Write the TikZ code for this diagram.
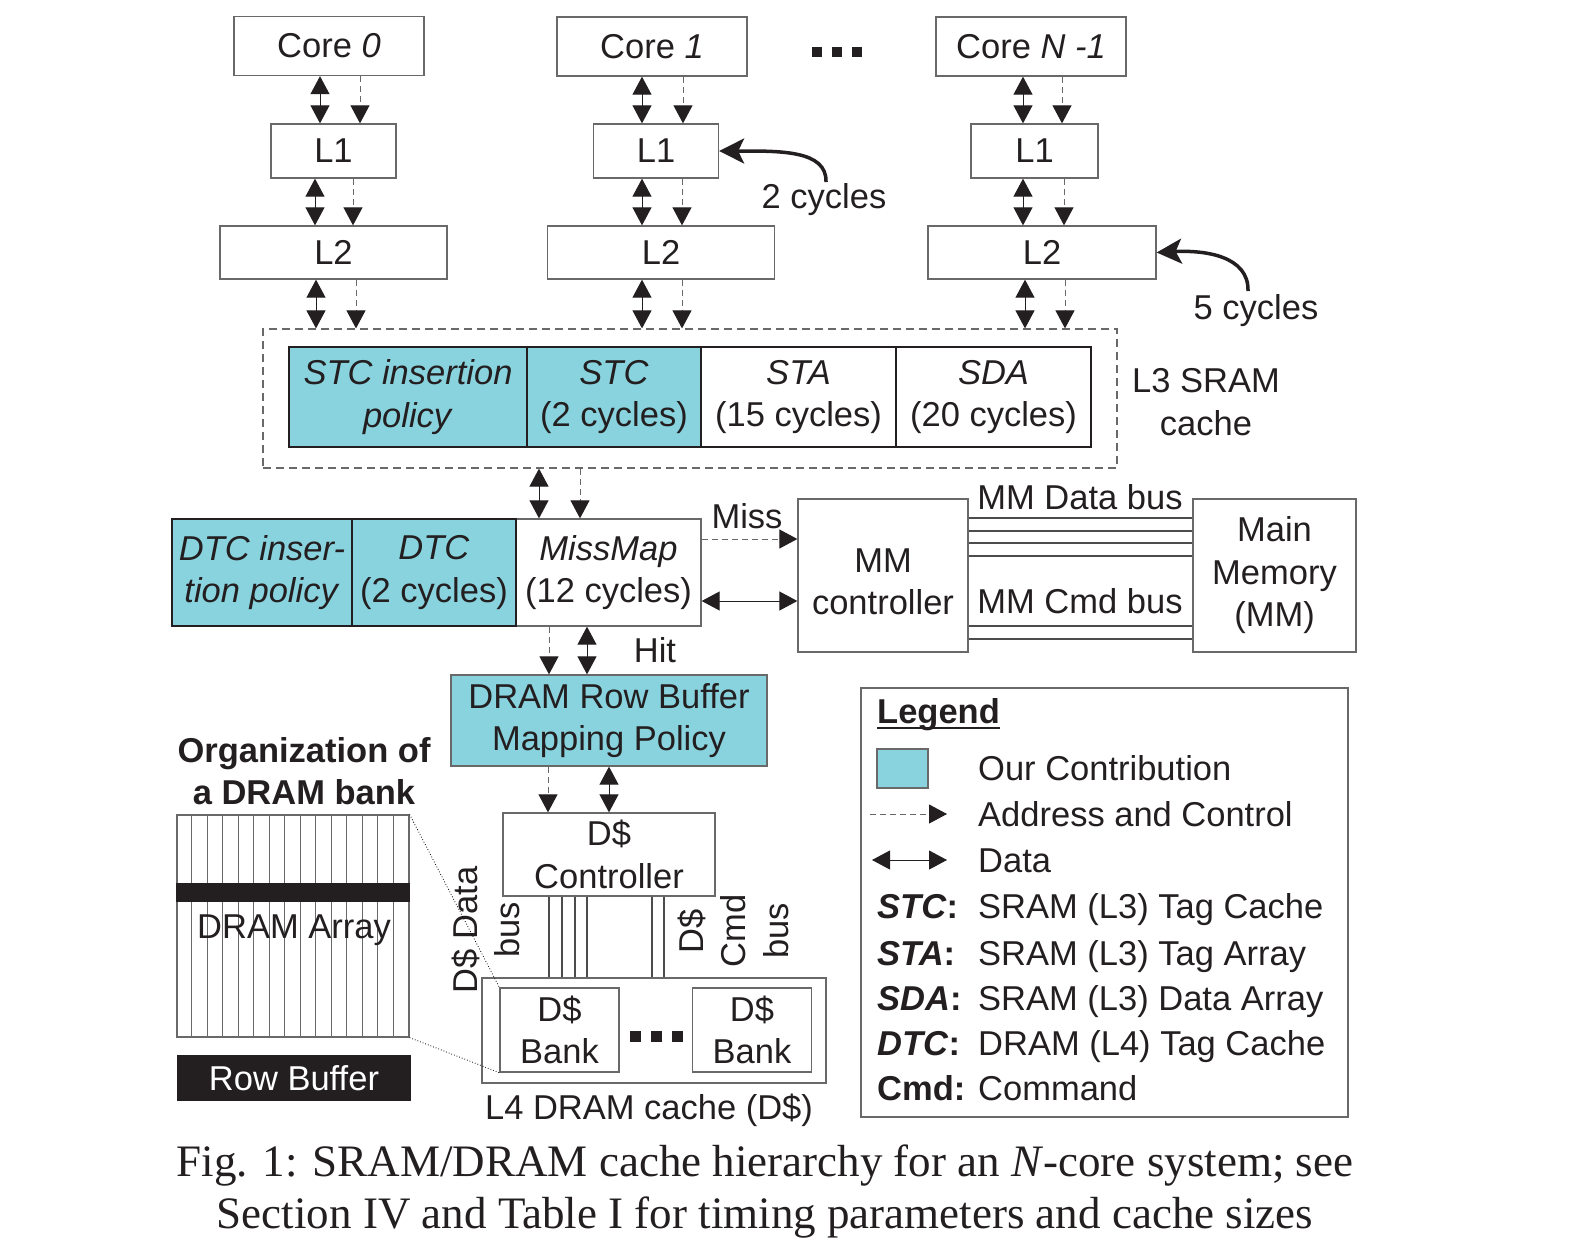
\documentclass[tikz,border=0pt]{standalone}
\usepackage{fontspec}
\setmainfont{Liberation Serif}
\setsansfont{Liberation Sans}
\usetikzlibrary{arrows.meta}

\definecolor{contrib}{RGB}{137,211,223}
\definecolor{ink}{RGB}{35,31,32}
\definecolor{edge}{RGB}{105,105,105}

\tikzset{
	box/.style={draw=edge, line width=1.3pt, align=center, inner sep=2pt},
	cell/.style={draw=ink, line width=1.3pt, align=center, inner sep=2pt},
	data/.style={<->, >={Triangle[length=18pt,width=19pt]}, line width=1pt, draw=ink},
	addr/.style={->, >={Triangle[length=18pt,width=19pt,color=ink]}, draw=edge, line width=1pt, dash pattern=on 6pt off 4pt},
	cyc/.style={->, >={Stealth[length=25pt,width=25pt,inset=6pt]}, line width=3.5pt, draw=ink},
	bus/.style={draw=black!70, line width=1.2pt},
	lbl/.style={anchor=base west, inner sep=0pt},
}

\begin{document}
\begin{tikzpicture}[x=1pt, y=-1pt, font=\sffamily\fontsize{34.5}{42.5}\selectfont, text=ink]
	\useasboundingbox (0,0) rectangle (1578,1248);

	% cores and private caches
	\node[box, minimum width=190, minimum height=59] (core0) at (329,46) {Core \textit{0}};
	\node[box, minimum width=190, minimum height=59] (core1) at (652,46.5) {Core \textit{1}};
	\node[box, minimum width=190, minimum height=59] (coren) at (1031,46.5) {Core \textit{N -1}};
	\foreach \x in {817,837,857} \fill[ink] (\x-5,47) rectangle (\x+5,57);

	\node[box, minimum width=125, minimum height=54] (l1a) at (333.5,151) {L1};
	\node[box, minimum width=125, minimum height=54] (l1b) at (656,151) {L1};
	\node[box, minimum width=127, minimum height=54] (l1c) at (1034.5,151) {L1};

	\node[box, minimum width=227, minimum height=53] (l2a) at (333.5,252.5) {L2};
	\node[box, minimum width=227, minimum height=53] (l2b) at (661,252.5) {L2};
	\node[box, minimum width=228, minimum height=53] (l2c) at (1042,252.5) {L2};

	\coordinate (c2) at (826,182);
	\coordinate (c5) at (1248,291);
	\draw[cyc] (c2) .. controls (827,150) and (780,151) .. (l1b.east);
	\draw[cyc] (c5) .. controls (1249,256) and (1205,250) .. (l2c.east);
	\node (two) at (824,200) {2 cycles};
	\node (five) at (1256,311) {5 cycles};

	% L3 SRAM cache
	\node[draw=edge, line width=1.2pt, dash pattern=on 8pt off 5pt, minimum width=854, minimum height=139] (l3) at (690,398.5) {};
	\node[cell, fill=contrib, minimum width=238, minimum height=100] (stcins) at (408,397) {\textit{STC insertion}\\\textit{policy}};
	\node[cell, fill=contrib, minimum width=174, minimum height=100] (stc) at (614,397) {\textit{STC}\\(2 cycles)};
	\node[cell, minimum width=195, minimum height=100] (sta) at (798.5,397) {\textit{STA}\\(15 cycles)};
	\node[cell, minimum width=195, minimum height=100] (sda) at (993.5,397) {\textit{SDA}\\(20 cycles)};
	\node[align=center] (l3lab) at (1206,402) {L3 SRAM\\cache};

	% tag cache and MissMap
	\node[box, minimum width=185, minimum height=107] (missmap) at (608.5,572.5) {\textit{MissMap}\\(12 cycles)};
	\node[cell, fill=contrib, minimum width=180, minimum height=107] (dtcins) at (262,572.5) {\textit{DTC inser-}\\\textit{tion policy}};
	\node[cell, fill=contrib, minimum width=164, minimum height=107] (dtc) at (434,572.5) {\textit{DTC}\\(2 cycles)};

	\node[box, minimum width=170, minimum height=153] (mmc) at (883,575.5) {};
	\node[align=center] (mmctxt) at (883,582) {MM\\controller};
	\node[box, minimum width=163, minimum height=153] (mm) at (1274.5,575.5) {Main\\Memory\\(MM)};
	\draw[addr] (missmap.east |- 0,539) -- (mmc.west |- 0,539);
	\draw[data] (missmap.east |- 0,601) -- (mmc.west |- 0,601);
	\node (miss) at (747,516) {Miss};
	\foreach \y in {518,531,543,556} \draw[bus] (mmc.east |- 0,\y) -- (mm.west |- 0,\y);
	\foreach \y in {626,639} \draw[bus] (mmc.east |- 0,\y) -- (mm.west |- 0,\y);
	\node (mmdata) at (1080,497) {MM Data bus};
	\node (mmcmd) at (1080,601) {MM Cmd bus};

	% DRAM cache
	\node (hit) at (655,650) {Hit};
	\node[box, fill=contrib, minimum width=316, minimum height=91] (rbm) at (609,720.5) {DRAM Row Buffer\\Mapping Policy};
	\node[box, minimum width=212, minimum height=83] (dctl) at (609,854.5) {D\$\\Controller};
	\node[box, minimum width=344, minimum height=105] (l4) at (654,1030.5) {};
	\node[box, minimum width=119, minimum height=84] (bank1) at (559.5,1030) {D\$\\Bank};
	\node[box, minimum width=119, minimum height=84] (bank2) at (752,1030) {D\$\\Bank};
	\foreach \x in {635,656,677} \fill[ink] (\x-5.5,1031) rectangle (\x+5.5,1042);
	\node (l4lab) at (649,1110) {L4 DRAM cache (D\$)};
	\foreach \x in {549,562,575,587,652,664} \draw[bus] (dctl.south -| \x,0) -- (l4.north -| \x,0);
	\node[rotate=90, align=center] (dbus) at (486,930) {D\$ Data\\bus};
	\node[rotate=90, align=center] (cbus) at (733,931) {D\$\\Cmd\\bus};

	% vertical links
	\foreach \u/\l/\s/\d in {core0/l1a/320/360, l1a/l2a/315/353, l2a/l3/316/356,
		core1/l1b/642/683, l1b/l2b/642/682, l2b/l3/642/682,
		coren/l1c/1023/1062, l1c/l2c/1023/1064, l2c/l3/1025/1065,
		l3/missmap/539/580, missmap/rbm/587/549, rbm/dctl/609/548}
	{
		\draw[data] (\u.south -| \s,0) -- (\l.north -| \s,0);
		\draw[addr] (\u.south -| \d,0) -- (\l.north -| \d,0);
	}

	% one DRAM bank
	\node[align=center, font=\sffamily\bfseries\fontsize{34.5}{42.5}\selectfont] (orgtitle) at (304,771) {Organization of\\a DRAM bank};
	\node[draw=edge, line width=1.2pt, minimum width=232, minimum height=222] (array) at (293,926) {};
	\foreach \i in {1,...,14}
		\draw[edge, line width=0.8pt] ([xshift=\i*15.47pt]array.north west) -- ([xshift=\i*15.47pt]array.south west);
	\fill[ink] (array.west |- 0,883) rectangle (array.east |- 0,902);
	\node (arraytxt) at (294,930) {DRAM Array};
	\node[fill=ink, text=white, minimum width=234, minimum height=46] (rowbuf) at (294,1078) {Row Buffer};
	\draw[dotted, line width=0.8pt] (array.north east) -- (bank1.north west);
	\draw[dotted, line width=0.8pt] (array.south east) -- (bank1.south west);

	% legend
	\node[box, minimum width=487, minimum height=429] (legend) at (1104.5,902.5) {};
	\node[lbl, font=\sffamily\bfseries\fontsize{34.5}{42.5}\selectfont] (legtitle) at (877,723) {Legend};
	\draw[ink, line width=2pt] ([yshift=-5pt]legtitle.base west) -- ([yshift=-5pt]legtitle.base east);
	\node[draw=edge, line width=1.2pt, fill=contrib, minimum width=51, minimum height=39] (legsq) at (902.5,768.5) {};
	\coordinate (la1) at (870,814);
	\coordinate (la2) at (947,814);
	\coordinate (lb1) at (872,860);
	\coordinate (lb2) at (947,860);
	\draw[addr] (la1) -- (la2);
	\draw[data] (lb1) -- (lb2);
	\node[lbl] (t1) at (978,780) {Our Contribution};
	\node[lbl] (t2) at (978,826) {Address and Control};
	\node[lbl] (t3) at (978,872) {Data};
	\node[lbl] (k1) at (877,918) {\textbf{\textit{STC}:}};
	\node[lbl] (t4) at (978,918) {SRAM (L3) Tag Cache};
	\node[lbl] (k2) at (877,965) {\textbf{\textit{STA}:}};
	\node[lbl] (t5) at (978,965) {SRAM (L3) Tag Array};
	\node[lbl] (k3) at (877,1010) {\textbf{\textit{SDA}:}};
	\node[lbl] (t6) at (978,1010) {SRAM (L3) Data Array};
	\node[lbl] (k4) at (877,1055) {\textbf{\textit{DTC}:}};
	\node[lbl] (t7) at (978,1055) {DRAM (L4) Tag Cache};
	\node[lbl] (k5) at (877,1100) {\textbf{Cmd:}};
	\node[lbl] (t8) at (978,1100) {Command};

	% caption
	\node[align=center, font=\rmfamily\fontsize{45}{52}\selectfont] (caption) at (765,1191)
		{Fig. 1: SRAM/DRAM cache hierarchy for an \textit{N}-core system; see\\Section IV and Table I for timing parameters and cache sizes};
\end{tikzpicture}
\end{document}
